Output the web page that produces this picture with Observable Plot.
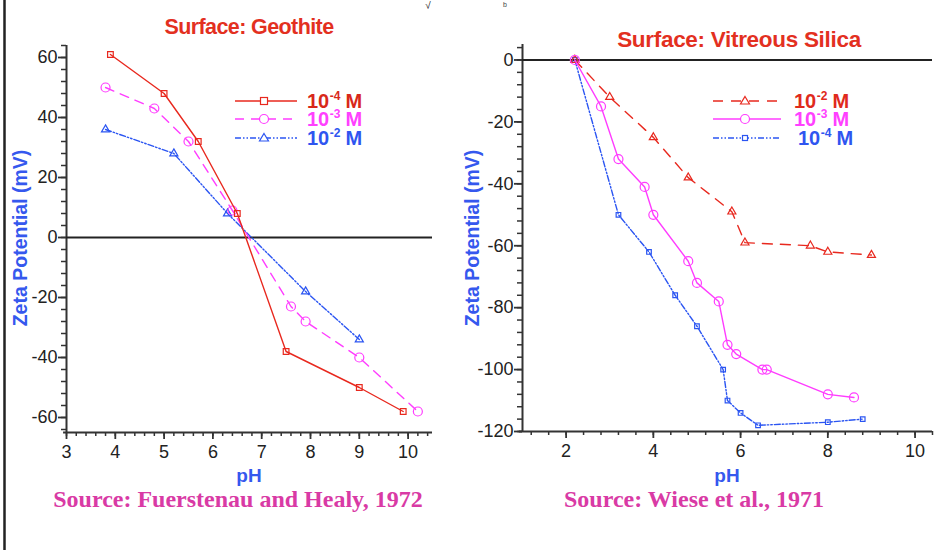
<!DOCTYPE html>
<html><head><meta charset="utf-8">
<script src="https://cdn.jsdelivr.net/npm/d3@7"></script>
<script src="https://cdn.jsdelivr.net/npm/@observablehq/plot@0.6"></script>
<style>
html,body{margin:0;padding:0;background:#fff;}
#wrap{position:relative;width:934px;height:550px;overflow:hidden;font-family:"Liberation Sans",Arial,sans-serif;}
#wrap > *{position:absolute;}
</style></head><body>
<div id="wrap"></div>
<script>
// ---------- data ----------
const geoTitle = "Surface: Geothite";
const silTitle = "Surface: Vitreous Silica";
const geoSource = "Source: Fuerstenau and Healy, 1972";
const silSource = "Source: Wiese et al., 1971";
const yLabel = "Zeta Potential (mV)";
const xLabel = "pH";

const geoPH4 = [3.9, 5.0, 5.7, 6.5, 7.5, 9.0, 9.9];
const geoZeta4 = [61, 48, 32, 8, -38, -50, -58];
const geoPH3 = [3.8, 4.8, 5.5, 6.4, 7.6, 7.9, 9.0, 10.2];
const geoZeta3 = [50, 43, 32, 9, -23, -28, -40, -58];
const geoPH2 = [3.8, 5.2, 6.3, 7.9, 9.0];
const geoZeta2 = [36, 28, 8, -18, -34];

const silPH2 = [2.2, 3.0, 4.0, 4.8, 5.8, 6.1, 7.6, 8.0, 9.0];
const silZeta2 = [0, -12, -25, -38, -49, -59, -60, -62, -63];
const silPH3 = [2.2, 2.8, 3.2, 3.8, 4.0, 4.8, 5.0, 5.5, 5.7, 5.9, 6.5, 6.6, 8.0, 8.6];
const silZeta3 = [0, -15, -32, -41, -50, -65, -72, -78, -92, -95, -100, -100, -108, -109];
const silPH4 = [2.2, 3.2, 3.9, 4.5, 5.0, 5.6, 5.7, 6.0, 6.4, 8.0, 8.8];
const silZeta4 = [0, -50, -62, -76, -86, -100, -110, -114, -118, -117, -116];

const geoXTicks = [3, 4, 5, 6, 7, 8, 9, 10];
const geoYTicks = [-60, -40, -20, 0, 20, 40, 60];
const silXTicks = [2, 4, 6, 8, 10];
const silYTicks = [-120, -100, -80, -60, -40, -20, 0];

const geoLegend = ["-4", "-3", "-2"];
const silLegend = ["-2", "-3", "-4"];

// ---------- styles ----------
const RED = "#e8281e", MAG = "#ff3cff", BLUE = "#2b55f2";
const DASH = "9,7", DDOT = "6,2,1.5,2,1.5,2";
const zip = (xs, ys) => xs.map((x, i) => ({x, y: ys[i]}));
const fmt = d => String(d);

function axes(xd, yd, xt, yt, xMinorStep, yMinorStep) {
  const xMinor = d3.range(Math.ceil(xd[0] / xMinorStep) * xMinorStep, xd[1] + 1e-9, xMinorStep).map(v => +v.toFixed(2));
  const yMinor = d3.range(Math.ceil(yd[0] / yMinorStep) * yMinorStep, yd[1] + 1e-9, yMinorStep);
  return [
    Plot.axisY(yMinor, {label: null, tickSize: 5, text: null, stroke: "#333", strokeWidth: 1.5}),
    Plot.axisY(yt, {label: null, tickSize: 8, tickPadding: 1, stroke: "#333", strokeWidth: 1.8, fill: "#222", fontSize: 18, tickFormat: fmt}),
    Plot.axisX(xMinor, {label: null, tickSize: 4, text: null, stroke: "#333", strokeWidth: 1.5}),
    Plot.axisX(xt, {label: null, tickSize: 7, tickPadding: 6, stroke: "#333", strokeWidth: 1.8, fill: "#222", fontSize: 18, tickFormat: fmt}),
    Plot.ruleX([xd[0]], {stroke: "#333", strokeWidth: 2}),
    Plot.ruleY([yd[0]], {stroke: "#333", strokeWidth: 2, x1: xd[0] - (xd[1]-xd[0])*0.008, x2: xd[1]}),
    Plot.ruleY([0], {stroke: "#222", strokeWidth: 2})
  ];
}

function series(data, color, dash, symbol, r) {
  return [
    Plot.line(data, {x: "x", y: "y", stroke: color, strokeWidth: 1.4, strokeDasharray: dash}),
    Plot.dot(data, {x: "x", y: "y", stroke: color, fill: "none", symbol, r, strokeWidth: 1.2})
  ];
}

const wrap = document.getElementById("wrap");
const plotStyle = {fontFamily: "'Liberation Sans', Arial, sans-serif", fontSize: "18px", color: "#222", background: "transparent", overflow: "visible"};

// ---------- left panel ----------
const gxd = [3, 10.5], gyd = [-65, 64];
const left = Plot.plot({
  width: 450, height: 470,
  marginLeft: 66, marginRight: 18, marginTop: 45, marginBottom: 38,
  style: plotStyle,
  x: {domain: gxd, axis: null},
  y: {domain: gyd, axis: null},
  marks: [
    ...axes(gxd, gyd, geoXTicks, geoYTicks, 0.2, 4),
    ...series(zip(geoPH2, geoZeta2), BLUE, DDOT, "triangle", 3),
    ...series(zip(geoPH3, geoZeta3), MAG, DASH, "circle", 4.5),
    ...series(zip(geoPH4, geoZeta4), RED, null, "square", 3.2)
  ]
});
left.style.left = "0px"; left.style.top = "0px";
wrap.appendChild(left);

// ---------- right panel ----------
const sxd = [1, 10.4], syd = [-120, 5];
const right = Plot.plot({
  width: 484, height: 470,
  marginLeft: 72, marginRight: 2, marginTop: 44, marginBottom: 39,
  style: plotStyle,
  x: {domain: sxd, axis: null},
  y: {domain: syd, axis: null},
  marks: [
    ...axes(sxd, syd, silXTicks, silYTicks, 0.4, 4),
    ...series(zip(silPH4, silZeta4), BLUE, DDOT, "square", 2.6),
    ...series(zip(silPH2, silZeta2), RED, "10,8", "triangle", 3),
    ...series(zip(silPH3, silZeta3), MAG, null, "circle", 4.5)
  ]
});
right.style.left = "450px"; right.style.top = "0px";
wrap.appendChild(right);

// ---------- overlay: titles, labels, legends ----------
const svg = d3.select(wrap).append("svg")
  .attr("width", 934).attr("height", 550)
  .style("left", "0px").style("top", "0px").style("pointer-events", "none")
  .style("font-family", "'Liberation Sans', Arial, sans-serif");

svg.append("line").attr("x1", 4.5).attr("x2", 4.5).attr("y1", 0).attr("y2", 550)
  .attr("stroke", "#222").attr("stroke-width", 2.5);
svg.append("text").attr("x", 428).attr("y", 9).attr("text-anchor", "middle")
  .attr("font-size", 10).attr("fill", "#222").text("√");
svg.append("text").attr("x", 505).attr("y", 7).attr("text-anchor", "middle")
  .attr("font-size", 7).attr("fill", "#444").text("b");

const TITLE_RED = "#e3301f", LAB_BLUE = "#3558ee", SRC = "#d93aa5";
svg.append("text").attr("x", 249).attr("y", 34).attr("text-anchor", "middle")
  .attr("font-size", 21.5).attr("font-weight", "bold").attr("fill", TITLE_RED)
  .attr("letter-spacing", -0.6).text(geoTitle);
svg.append("text").attr("x", 739).attr("y", 47).attr("text-anchor", "middle")
  .attr("font-size", 22.5).attr("font-weight", "bold").attr("fill", TITLE_RED)
  .attr("letter-spacing", -0.3).text(silTitle);

[[20, 238], [472, 238]].forEach(([x, y]) => {
  svg.append("text").attr("transform", `translate(${x + 7},${y}) rotate(-90)`)
    .attr("text-anchor", "middle").attr("font-size", 19.5).attr("font-weight", "bold")
    .attr("fill", LAB_BLUE).text(yLabel);
});
[[249, 482], [727, 482]].forEach(([x, y]) => {
  svg.append("text").attr("x", x).attr("y", y).attr("text-anchor", "middle")
    .attr("font-size", 19).attr("font-weight", "bold").attr("fill", LAB_BLUE).text(xLabel);
});
[[238, geoSource], [694, silSource]].forEach(([x, t]) => {
  svg.append("text").attr("x", x).attr("y", 507).attr("text-anchor", "middle")
    .attr("font-family", "'Liberation Serif', 'Times New Roman', serif")
    .attr("font-size", 24).attr("font-weight", "bold").attr("fill", SRC).text(t);
});

function legend(x0, x1, tx, rows) {
  rows.forEach((r, i) => {
    const y = [101, 119, 138][i];
    svg.append("line").attr("x1", x0).attr("x2", x1).attr("y1", y).attr("y2", y)
      .attr("stroke", r.color).attr("stroke-width", 1.4).attr("stroke-dasharray", r.dash);
    const cx = (x0 + x1) / 2 - 2;
    if (r.sym === "square") svg.append("rect").attr("x", cx - r.s / 2).attr("y", y - r.s / 2)
      .attr("width", r.s).attr("height", r.s).attr("fill", "white").attr("stroke", r.color).attr("stroke-width", 1.2);
    else if (r.sym === "circle") svg.append("circle").attr("cx", cx).attr("cy", y).attr("r", 4.5)
      .attr("fill", "white").attr("stroke", r.color).attr("stroke-width", 1.2);
    else svg.append("path").attr("d", `M${cx},${y - 4.5}L${cx + 4.5},${y + 3}L${cx - 4.5},${y + 3}Z`)
      .attr("fill", "white").attr("stroke", r.color).attr("stroke-width", 1.2);
    let x = tx + (r.indent || 0);
    const base = svg.append("text").attr("x", x).attr("y", y + 7)
      .attr("font-size", 20).attr("font-weight", "bold").attr("fill", r.text).text("10");
    x += base.node().getComputedTextLength() + 0.5;
    const ex = svg.append("text").attr("x", x).attr("y", y - 1)
      .attr("font-size", 12).attr("font-weight", "bold").attr("fill", r.text).text(r.exp);
    x += ex.node().getComputedTextLength() + 5;
    svg.append("text").attr("x", x).attr("y", y + 7)
      .attr("font-size", 20).attr("font-weight", "bold").attr("fill", r.text).text("M");
  });
}
legend(235, 297, 307, [
  {color: RED, dash: null, sym: "square", s: 7, text: "#d8281a", exp: geoLegend[0]},
  {color: MAG, dash: DASH, sym: "circle", text: "#ff40ff", exp: geoLegend[1]},
  {color: BLUE, dash: DDOT, sym: "triangle", text: "#2f55f0", exp: geoLegend[2]}
]);
legend(713, 781, 794, [
  {color: RED, dash: "10,8", sym: "triangle", text: "#e02a1c", exp: silLegend[0]},
  {color: MAG, dash: null, sym: "circle", text: "#ff40ff", exp: silLegend[1]},
  {color: BLUE, dash: DDOT, sym: "square", s: 5, text: "#2f55f0", exp: silLegend[2], indent: 4}
]);
</script>
</body></html>
